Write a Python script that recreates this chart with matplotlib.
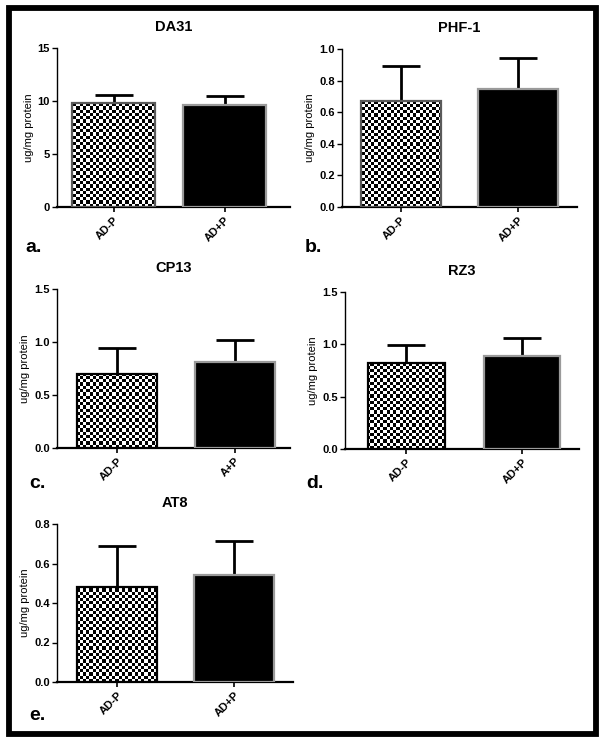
import numpy as np
import matplotlib
matplotlib.use("Agg")
import matplotlib.pyplot as plt
from matplotlib.patches import Rectangle

plt.rcParams['font.family'] = ['Liberation Sans', 'DejaVu Sans']

# data (mean and upper error, ug/mg protein)
titles = ["DA31", "PHF-1", "CP13", "RZ3", "AT8"]
panel_letters = ["a.", "b.", "c.", "d.", "e."]
groups_ab = ["AD-P", "AD+P"]
groups_c = ["AD-P", "A+P"]
da31_mean = [9.8, 9.65]
da31_err = [0.75, 0.8]
phf1_mean = [0.67, 0.75]
phf1_err = [0.225, 0.195]
cp13_mean = [0.70, 0.81]
cp13_err = [0.24, 0.21]
rz3_mean = [0.82, 0.89]
rz3_err = [0.17, 0.17]
at8_mean = [0.48, 0.54]
at8_err = [0.21, 0.175]
yticks_da31 = [0, 5, 10, 15]
yticks_phf1 = [0.0, 0.2, 0.4, 0.6, 0.8, 1.0]
yticks_cp13 = [0.0, 0.5, 1.0, 1.5]
yticks_at8 = [0.0, 0.2, 0.4, 0.6, 0.8]

W, H = 604, 743
fig = plt.figure(figsize=(W / 100, H / 100), dpi=100)

# outer black frame
fig.patches.append(Rectangle((8.5 / W, 1 - 734 / H), 587 / W, 726.5 / H,
                             transform=fig.transFigure, fill=False,
                             edgecolor='black', linewidth=4.2))

# axes boxes in pixels: left, top, width, height ; plus xlim
boxes = [(57, 48, 233, 159, (-0.51, 1.59)),
         (342, 49, 235, 158, (-0.50, 1.50)),
         (57, 289, 233, 159, (-0.51, 1.47)),
         (345, 292, 234, 157, (-0.53, 1.49)),
         (57, 524, 236, 158, (-0.51, 1.50))]
means = [da31_mean, phf1_mean, cp13_mean, rz3_mean, at8_mean]
errs = [da31_err, phf1_err, cp13_err, rz3_err, at8_err]
ticks = [yticks_da31, yticks_phf1, yticks_cp13, yticks_cp13, yticks_at8]
xlabels = [groups_ab, groups_ab, groups_c, groups_ab, groups_ab]
check_edges = ['#5a5a5a', '#5a5a5a', 'black', 'black', 'black']
bar_widths = [0.75, 0.68, 0.68, 0.66, 0.68]
letter_pos = [(25, 247), (305, 247), (29, 483), (306, 483), (29, 715)]

for i in range(5):
    l, t, w, h, xl = boxes[i]
    ax = fig.add_axes([l / W, 1 - (t + h) / H, w / W, h / H])
    x = np.arange(2)
    ymax = ticks[i][-1]

    # error bars sit behind the bars, only the upper half shows
    ax.errorbar(x, means[i], yerr=errs[i], fmt='none', ecolor='black',
                elinewidth=2, capsize=13.5, capthick=2, zorder=1)

    bars = ax.bar(x, means[i], width=bar_widths[i], color=['white', 'black'],
                  edgecolor='none', zorder=2)

    # checkerboard fill for the first bar
    cols = int(w / 3.2)
    rows = int(h / 3.2)
    checker = np.indices((rows, cols)).sum(axis=0) % 2
    im = ax.imshow(checker, cmap='gray', interpolation='nearest',
                   extent=(xl[0], xl[1], 0, ymax), aspect='auto', zorder=3)
    im.set_clip_path(bars[0])

    ax.bar(x, means[i], width=bar_widths[i], fill=False,
           edgecolor=[check_edges[i], '#9a9a9a'], linewidth=1.6, zorder=4)

    ax.set_xlim(*xl)
    ax.set_ylim(0, ymax)
    ax.set_yticks(ticks[i])
    if i == 0:
        ax.set_yticklabels([str(v) for v in ticks[i]])
    else:
        ax.set_yticklabels(["%.1f" % v for v in ticks[i]])
    ax.set_xticks(x)
    ax.set_xticklabels(xlabels[i], rotation=45, ha='right',
                       rotation_mode='anchor')

    for s in ['top', 'right']:
        ax.spines[s].set_visible(False)
    ax.spines['left'].set_linewidth(1.0)
    ax.spines['bottom'].set_linewidth(1.6)
    ax.tick_params(axis='y', length=3.5, width=1, labelsize=8, pad=1.5)
    ax.tick_params(axis='x', length=3.5, width=1.2, labelsize=8, pad=2)
    for lab in ax.get_xticklabels() + ax.get_yticklabels():
        lab.set_fontweight('bold')

    ax.set_ylabel("ug/mg protein", fontsize=8, labelpad=3)
    ax.set_title(titles[i], fontsize=10.5, fontweight='bold', pad=12)

    lx, ly = letter_pos[i]
    fig.text(lx / W, 1 - ly / H, panel_letters[i], fontsize=14,
             fontweight='bold', va='center', ha='left')

plt.savefig("out.png", dpi=100)
